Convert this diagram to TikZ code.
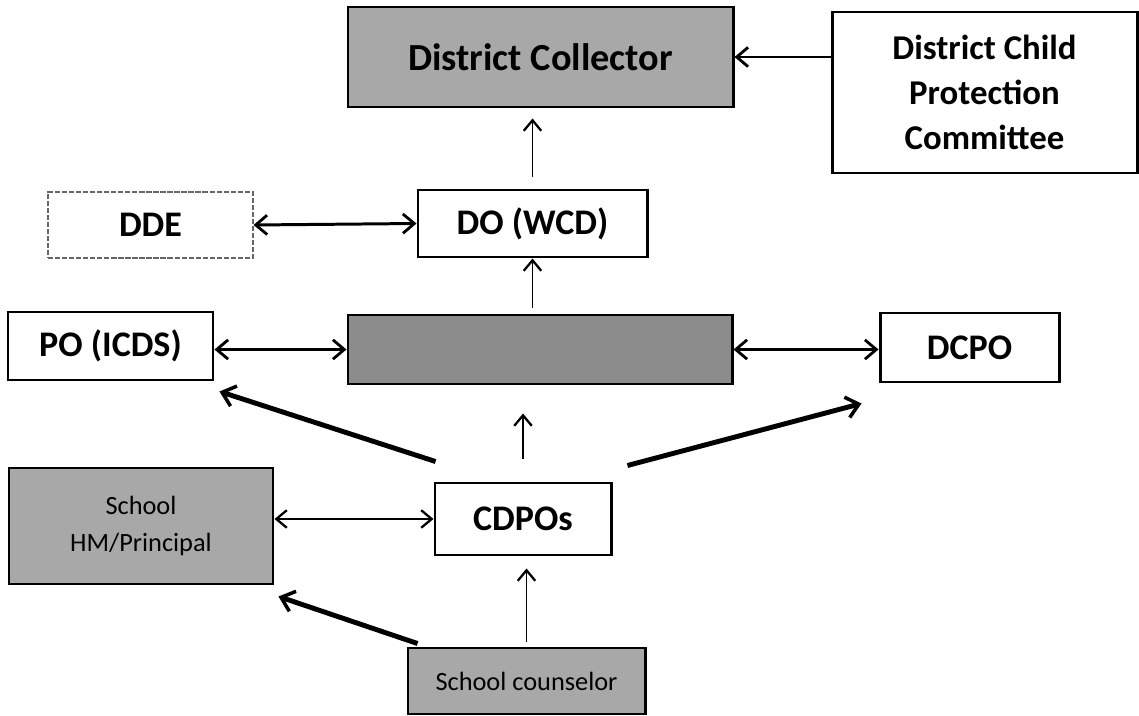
\documentclass[tikz,border=0pt]{standalone}
\usepackage{fontspec}
\setmainfont{Carlito}
\usetikzlibrary{arrows.meta,calc}
\newdimen\pxu
\pxu=0.02cm
\definecolor{scan}{RGB}{168,168,168}
\definecolor{scandark}{RGB}{140,140,140}
\tikzset{
  box/.style={draw=black, line width=1.7pt, inner sep=0pt, align=center},
  grbox/.style={box, fill=scan},
  lightbox/.style={draw=black!60, line width=0.6pt, dashed, dash pattern=on 3pt off 1pt, inner sep=0pt, align=center},
  bigtxt/.style={font=\fontsize{20.5}{25.5}\selectfont\bfseries},
  smalltxt/.style={font=\fontsize{15}{21.5}\selectfont},
  tip/.style={Straight Barb[length=6.5pt, width=11pt, line width=1.6pt]},
  dbl/.style={line width=1.7pt, {Straight Barb[length=6.5pt, width=11pt, line width=1.6pt]}-{Straight Barb[length=6.5pt, width=11pt, line width=1.6pt]}},
  thinup/.style={line width=1.1pt, -{Straight Barb[length=6pt, width=10pt, line width=1.3pt]}},
  thinboth/.style={line width=1.1pt, {Straight Barb[length=6pt, width=10pt, line width=1.3pt]}-{Straight Barb[length=6pt, width=10pt, line width=1.3pt]}},
  heavy/.style={line width=2.8pt, -{Straight Barb[length=7pt, width=12pt, line width=2pt]}},
  medarr/.style={line width=1.7pt, -{Straight Barb[length=6.5pt, width=11pt, line width=1.6pt]}}
}
\begin{document}
\begin{tikzpicture}[x=0.02cm, y=-0.02cm]
\useasboundingbox (0,0) rectangle (1139,716);
% nodes
\node[grbox, bigtxt, minimum width=385\pxu, minimum height=100\pxu, font=\fontsize{21.8}{26}\selectfont\bfseries] (dc) at (540.5,57) {District Collector};
\node[box, bigtxt, minimum width=305\pxu, minimum height=161\pxu, font=\fontsize{19.8}{25.5}\selectfont\bfseries] (dcpc) at (984.5,92.5) {District Child\\Protection\\Committee};
\node[lightbox, bigtxt, minimum width=205\pxu, minimum height=66\pxu] (dde) at (150.5,225) {DDE};
\node[box, bigtxt, minimum width=229\pxu, minimum height=67\pxu] (do) at (532.5,223.5) {DO (WCD)};
\node[box, bigtxt, minimum width=205\pxu, minimum height=68\pxu] (po) at (110.5,346) {PO (ICDS)};
\node[box, fill=scandark, minimum width=384\pxu, minimum height=69\pxu] (mid) at (540,349.5) {};
\node[box, bigtxt, minimum width=179\pxu, minimum height=69\pxu] (dcpo) at (969.5,347.5) {DCPO};
\node[grbox, smalltxt, minimum width=264\pxu, minimum height=116\pxu] (hm) at (141,526) {School\\HM/Principal};
\node[box, bigtxt, minimum width=176\pxu, minimum height=72\pxu] (cdpo) at (523,519) {CDPOs};
\node[grbox, smalltxt, minimum width=237\pxu, minimum height=66\pxu] (cou) at (526.5,681) {School counselor};
% connectors
\draw[medarr] (dcpc.west |- dc.east) -- (dc.east);
\draw[thinup, shorten <=12\pxu, shorten >=10\pxu] (do.north) -- (do.north |- dc.south);
\draw[dbl] (dde.east) -- (do.west);
\draw[thinup, shorten <=6\pxu] (do.south |- mid.north) -- (do.south);
\draw[dbl] (po.east |- mid.west) -- (mid.west);
\draw[dbl] (mid.east) -- (dcpo.west |- mid.east);
\draw[thinup, shorten <=23\pxu, shorten >=28\pxu] (cdpo.north) -- (cdpo.north |- mid.south);
\draw[heavy] ($(cdpo.north west)+(2,-20)$) -- ($(po.south east)+(5,10)$);
\draw[heavy] ($(cdpo.north east)+(15,-16)$) -- ($(dcpo.south west)+(-17,20)$);
\draw[thinboth] (hm.east |- cdpo.west) -- (cdpo.west);
\draw[thinup, shorten <=5\pxu, shorten >=12\pxu] (cou.north) -- (cou.north |- cdpo.south);
\draw[heavy] ($(cou.north west)+(11,-3)$) -- ($(hm.south east)+(4,11)$);
\end{tikzpicture}
\end{document}
